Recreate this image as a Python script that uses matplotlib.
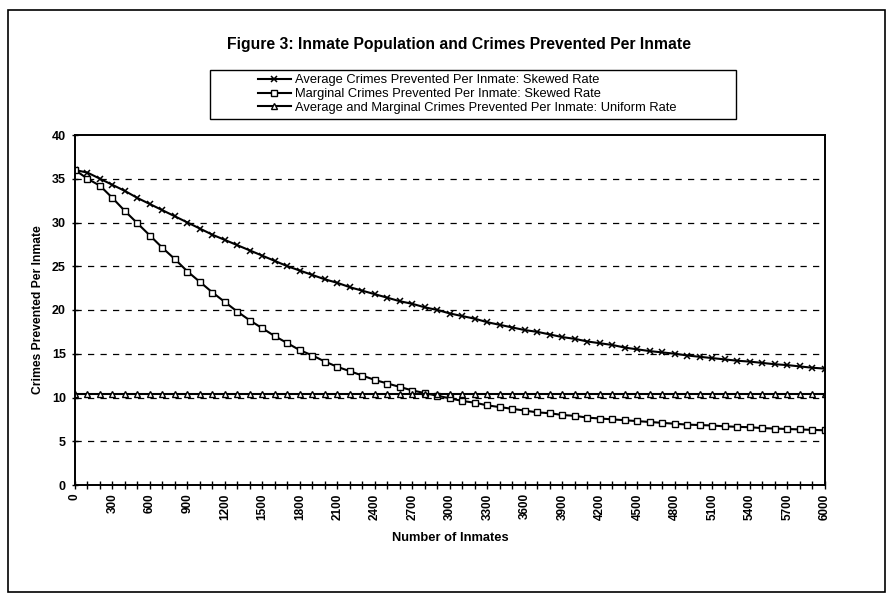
import matplotlib
matplotlib.use('Agg')
import matplotlib.pyplot as plt
from matplotlib.patches import Rectangle

plt.rcParams['font.family'] = ['Liberation Sans', 'DejaVu Sans']

# number of inmates, every 100
inmates = list(range(0, 6001, 100))

avg_skewed = [36.0, 35.7, 35.0, 34.3, 33.6, 32.8, 32.1, 31.4, 30.7, 30.0,
              29.3, 28.6, 28.0, 27.4, 26.8, 26.2, 25.6, 25.0, 24.5, 24.0,
              23.5, 23.1, 22.6, 22.2, 21.8, 21.4, 21.0, 20.7, 20.3, 20.0,
              19.6, 19.3, 19.0, 18.6, 18.3, 18.0, 17.7, 17.5, 17.2, 16.9,
              16.7, 16.4, 16.2, 16.0, 15.7, 15.5, 15.3, 15.15, 15.0, 14.8,
              14.65, 14.5, 14.35, 14.2, 14.1, 13.95, 13.8, 13.7, 13.55, 13.4,
              13.3]

marg_skewed = [36.0, 35.0, 34.2, 32.8, 31.3, 29.9, 28.5, 27.1, 25.8, 24.4,
               23.2, 22.0, 20.9, 19.8, 18.8, 17.9, 17.0, 16.2, 15.4, 14.8,
               14.1, 13.5, 13.0, 12.5, 12.0, 11.6, 11.2, 10.8, 10.5, 10.2,
               9.9, 9.6, 9.4, 9.1, 8.9, 8.7, 8.5, 8.3, 8.2, 8.0,
               7.9, 7.7, 7.6, 7.5, 7.4, 7.3, 7.2, 7.1, 7.0, 6.9,
               6.85, 6.8, 6.7, 6.65, 6.6, 6.5, 6.45, 6.4, 6.35, 6.3,
               6.25]

uniform = [10.4] * len(inmates)

labels = ["Average Crimes Prevented Per Inmate: Skewed Rate",
          "Marginal Crimes Prevented Per Inmate: Skewed Rate",
          "Average and Marginal Crimes Prevented Per Inmate: Uniform Rate"]

W, H = 895, 600
fig = plt.figure(figsize=(W / 100, H / 100), dpi=100)
fig.patch.set_facecolor('white')

# outer border of the chart
fig.patches.append(Rectangle((8 / W, 1 - 592 / H), 877 / W, 582 / H,
                             transform=fig.transFigure, fill=False,
                             edgecolor='black', linewidth=1.2))

ax = fig.add_axes([75 / W, 1 - 485 / H, 750 / W, 350 / H])

l1, = ax.plot(inmates, avg_skewed, color='black', lw=1.5, marker='x',
              markersize=5, markeredgewidth=1.1)
l2, = ax.plot(inmates, marg_skewed, color='black', lw=1.5, marker='s',
              markersize=5, markerfacecolor='white', markeredgewidth=1.0)
l3, = ax.plot(inmates, uniform, color='black', lw=1.5, marker='^',
              markersize=4.5, markerfacecolor='white', markeredgewidth=1.0)

ax.set_xlim(0, 6000)
ax.set_ylim(0, 40)
ax.set_yticks(range(0, 41, 5))
ax.set_xticks(inmates)
ax.set_xticklabels([str(v) if v % 300 == 0 else '' for v in inmates],
                   rotation=90, fontsize=8.5, fontweight='bold')
for t in ax.get_yticklabels():
    t.set_fontsize(9)
    t.set_fontweight('bold')
ax.tick_params(axis='x', direction='inout', length=6, width=1, pad=3)
ax.tick_params(axis='y', direction='inout', length=5, width=1, pad=4)

for v in range(5, 40, 5):
    ax.axhline(v, color='black', lw=0.9, ls=(0, (5, 5)), zorder=0)

for s in ax.spines.values():
    s.set_linewidth(1.4)

ax.set_xlabel("Number of Inmates", fontsize=9.3, fontweight='bold', labelpad=9)
ax.set_ylabel("Crimes Prevented Per Inmate", fontsize=8.7, fontweight='bold',
              labelpad=6)

fig.text(459 / W, 1 - 44 / H,
         "Figure 3: Inmate Population and Crimes Prevented Per Inmate",
         ha='center', va='center', fontsize=11.3, fontweight='bold')

# legend box
fig.patches.append(Rectangle((210 / W, 1 - 119 / H), 526 / W, 49 / H,
                             transform=fig.transFigure, fill=False,
                             edgecolor='black', linewidth=1.0))
fig.legend([l1, l2, l3], labels, loc='center',
           bbox_to_anchor=(467 / W, 1 - 94 / H), frameon=False,
           fontsize=9.3, handlelength=2.6, handletextpad=0.3,
           labelspacing=0.15, numpoints=1, borderpad=0)

fig.savefig('out.png', dpi=100)
